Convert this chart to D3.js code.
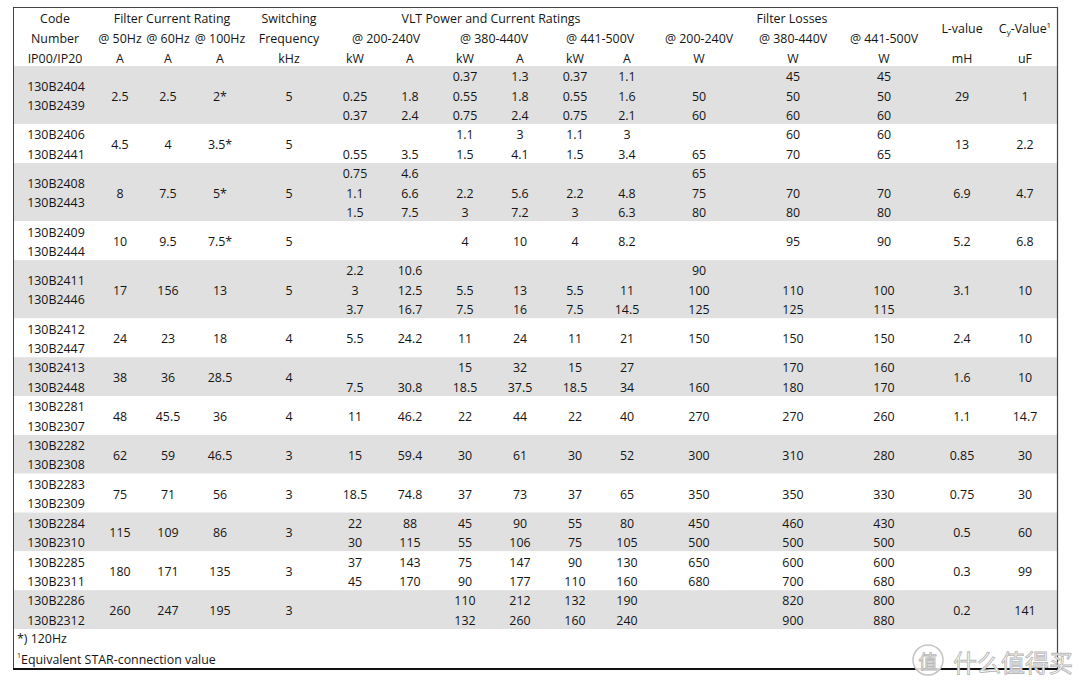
<!DOCTYPE html>
<html><head><meta charset="utf-8">
<script src="https://cdn.jsdelivr.net/npm/d3@7/dist/d3.min.js"></script>
<style>
html,body{margin:0;padding:0;background:#fff;}
svg{display:block;font-family:"Open Sans","Noto Sans",sans-serif;}
</style></head>
<body><svg id="c" width="1080" height="687"></svg>
<script>
// ---------- DATA ----------
const codesA = ["130B2404","130B2406","130B2408","130B2409","130B2411","130B2412","130B2413","130B2281","130B2282","130B2283","130B2284","130B2285","130B2286"];
const codesB = ["130B2439","130B2441","130B2443","130B2444","130B2446","130B2447","130B2448","130B2307","130B2308","130B2309","130B2310","130B2311","130B2312"];
const lineCounts = [3,2,3,2,3,2,2,2,2,2,2,2,2];
const f50  = ["2.5","4.5","8","10","17","24","38","48","62","75","115","180","260"];
const f60  = ["2.5","4","7.5","9.5","156","23","36","45.5","59","71","109","171","247"];
const f100 = ["2*","3.5*","5*","7.5*","13","18","28.5","36","46.5","56","86","135","195"];
const swFreq = ["5","5","5","5","5","4","4","4","3","3","3","3","3"];
const kw200 = [["","0.25","0.37"],["","0.55"],["0.75","1.1","1.5"],"",["2.2","3","3.7"],"5.5",["","7.5"],"11","15","18.5",["22","30"],["37","45"],""];
const a200  = [["","1.8","2.4"],["","3.5"],["4.6","6.6","7.5"],"",["10.6","12.5","16.7"],"24.2",["","30.8"],"46.2","59.4","74.8",["88","115"],["143","170"],""];
const kw380 = [["0.37","0.55","0.75"],["1.1","1.5"],["","2.2","3"],"4",["","5.5","7.5"],"11",["15","18.5"],"22","30","37",["45","55"],["75","90"],["110","132"]];
const a380  = [["1.3","1.8","2.4"],["3","4.1"],["","5.6","7.2"],"10",["","13","16"],"24",["32","37.5"],"44","61","73",["90","106"],["147","177"],["212","260"]];
const kw441 = [["0.37","0.55","0.75"],["1.1","1.5"],["","2.2","3"],"4",["","5.5","7.5"],"11",["15","18.5"],"22","30","37",["55","75"],["90","110"],["132","160"]];
const a441  = [["1.1","1.6","2.1"],["3","3.4"],["","4.8","6.3"],"8.2",["","11","14.5"],"21",["27","34"],"40","52","65",["80","105"],["130","160"],["190","240"]];
const w200  = [["","50","60"],["","65"],["65","75","80"],"",["90","100","125"],"150",["","160"],"270","300","350",["450","500"],["650","680"],""];
const w380  = [["45","50","60"],["60","70"],["","70","80"],"95",["","110","125"],"150",["170","180"],"270","310","350",["460","500"],["600","700"],["820","900"]];
const w441  = [["45","50","60"],["60","65"],["","70","80"],"90",["","100","115"],"150",["160","170"],"260","280","330",["430","500"],["600","680"],["800","880"]];
const lValue  = ["29","13","6.9","5.2","3.1","2.4","1.6","1.1","0.85","0.75","0.5","0.3","0.2"];
const cyValue = ["1","2.2","4.7","6.8","10","10","10","14.7","30","30","60","99","141"];

const colKeys = ["code","f50","f60","f100","sw","kw200","a200","kw380","a380","kw441","a441","w200","w380","w441","l","cy"];
const unitLabels = ["IP00/IP20","A","A","A","kHz","kW","A","kW","A","kW","A","W","W","W","mH","uF"];
const footnotes = ["*) 120Hz","Equivalent STAR-connection value"];

// ---------- LAYOUT ----------
const colX = [55,120,168,220,289,355,410,465,520,575,627,699,793,884,962,1025];
const x = d3.scaleOrdinal(colKeys, colX);
const totalLines = d3.sum(lineCounts);
const y = d3.scaleLinear().domain([0, totalLines]).range([66, 629]);
const svg = d3.select("#c");
const ink = "#141414";
const fs = 12.4;

// band backgrounds
let start = 0;
const groups = lineCounts.map((n,i)=>{ const g={i, start, n}; start += n; return g; });
svg.selectAll("rect.band").data(groups).join("rect")
  .attr("x",13).attr("width",1044)
  .attr("y",d=>y(d.start)).attr("height",d=>y(d.start+d.n)-y(d.start))
  .attr("fill",d=>d.i%2===0?"#e0e0e0":"#ffffff");

function txt(sel, xx, yy, t, opts={}){
  return sel.append("text").attr("x",xx).attr("y",yy)
    .attr("text-anchor",opts.anchor||"middle").attr("dominant-baseline","central")
    .attr("font-size",opts.size||fs).attr("fill",ink).text(t);
}

// header
const H = svg.append("g");
txt(H,x("code"),18,"Code"); txt(H,x("code"),38,"Number");
txt(H,172,18,"Filter Current Rating");
txt(H,x("f50"),38,"@ 50Hz"); txt(H,x("f60"),38,"@ 60Hz"); txt(H,x("f100"),38,"@ 100Hz");
txt(H,x("sw"),18,"Switching"); txt(H,x("sw"),38,"Frequency");
txt(H,491,18,"VLT Power and Current Ratings");
txt(H,386,38,"@ 200-240V"); txt(H,494,38,"@ 380-440V"); txt(H,600,38,"@ 441-500V");
txt(H,792,18,"Filter Losses");
txt(H,x("w200"),38,"@ 200-240V"); txt(H,x("w380"),38,"@ 380-440V"); txt(H,x("w441"),38,"@ 441-500V");
txt(H,x("l"),28,"L-value");
const cyT = txt(H,x("cy"),28,"");
cyT.append("tspan").text("C");
cyT.append("tspan").attr("font-size",8).attr("dy",3).text("y");
cyT.append("tspan").attr("dy",-3).text("-Value");
cyT.append("tspan").attr("font-size",8).attr("dy",-4).text("1");
colKeys.forEach((k,i)=>txt(H,x(k),58,unitLabels[i]));

// body
const B = svg.append("g");
const half = (y(1)-y(0))/2;
const singleCols = [["f50",f50],["f60",f60],["f100",f100],["sw",swFreq],["l",lValue],["cy",cyValue]];
const multiCols = [["kw200",kw200],["a200",a200],["kw380",kw380],["a380",a380],["kw441",kw441],["a441",a441],["w200",w200],["w380",w380],["w441",w441]];
groups.forEach(g=>{
  const cy = y(g.start + g.n/2) + 1;
  txt(B,x("code")+1,cy-half,codesA[g.i]);
  txt(B,x("code")+1,cy+half,codesB[g.i]);
  singleCols.forEach(([k,arr])=>{ if(arr[g.i]) txt(B,x(k),cy,arr[g.i]); });
  multiCols.forEach(([k,arr])=>{
    const v = arr[g.i];
    if(Array.isArray(v)) v.forEach((s,j)=>{ if(s) txt(B,x(k),y(g.start+j+0.5)+1,s); });
    else if(v) txt(B,x(k),cy,v);
  });
});

// footnotes
txt(svg,17,638,footnotes[0],{anchor:"start"});
const fn = txt(svg,17,659,"",{anchor:"start"});
fn.append("tspan").attr("font-size",7).attr("dy",-4).text("1");
fn.append("tspan").attr("dy",4).text(footnotes[1]);

// frame
svg.append("line").attr("x1",13).attr("x2",1058).attr("y1",7.5).attr("y2",7.5).attr("stroke","#444").attr("stroke-width",1);
svg.append("line").attr("x1",13.5).attr("x2",13.5).attr("y1",7).attr("y2",670).attr("stroke","#444").attr("stroke-width",1);
svg.append("line").attr("x1",1057.5).attr("x2",1057.5).attr("y1",7).attr("y2",670).attr("stroke","#444").attr("stroke-width",1.2);
svg.append("line").attr("x1",13).attr("x2",1058).attr("y1",669).attr("y2",669).attr("stroke","#111").attr("stroke-width",2);

// watermark
const W = svg.append("g").attr("font-family","'Noto Sans CJK SC',sans-serif");
W.append("circle").attr("cx",928).attr("cy",660).attr("r",15).attr("fill","#fff").attr("fill-opacity",0.85).attr("stroke","#c4c4c4").attr("stroke-width",1.5);
W.append("text").attr("x",928).attr("y",660).attr("text-anchor","middle").attr("dominant-baseline","central")
  .attr("font-size",19).attr("fill","#fff").attr("stroke","#b8b8b8").attr("stroke-width",0.9).text("值");
W.append("text").attr("x",953).attr("y",661).attr("dominant-baseline","central")
  .attr("font-size",24).attr("fill","#fff").attr("stroke","#b8b8b8").attr("stroke-width",0.9).text("什么值得买");
</script></body></html>
